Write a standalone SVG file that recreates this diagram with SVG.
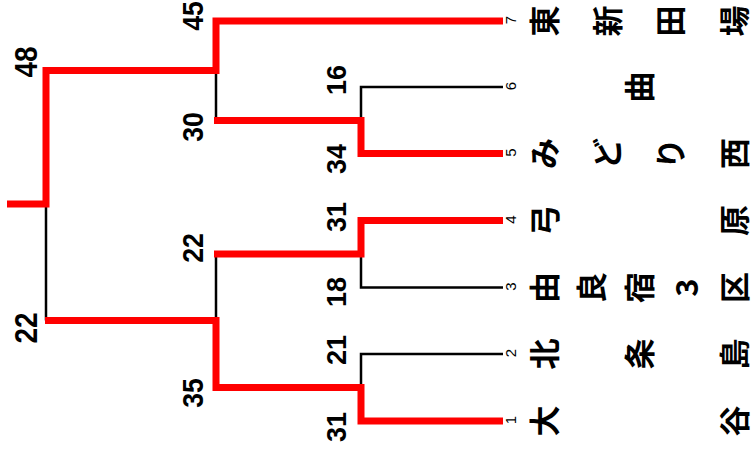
<svg xmlns="http://www.w3.org/2000/svg" width="751" height="461" viewBox="0 0 751 461">
<style>
.bk{fill:none;stroke:#000;stroke-width:2.5;stroke-linejoin:miter}
.rd{fill:none;stroke:#f00;stroke-width:7;stroke-linejoin:miter}
.sc{font-family:"Liberation Sans",Arial,sans-serif;font-weight:bold;text-anchor:middle;fill:#000}
.f{font-size:31px}
.r2{font-size:29px}
.r1{font-size:27px}
.num{font-family:"Liberation Sans",Arial,sans-serif;font-size:15px;text-anchor:middle;fill:#000}
.jp{font-family:"Noto Sans CJK JP","Liberation Sans",sans-serif;font-weight:bold;font-size:31px;text-anchor:middle;dominant-baseline:central;fill:#000}
</style>
<rect width="751" height="461" fill="#fff"/>
<g id="connectors">
<path class="bk" d="M503,87 H361 V120.5"/>
<path class="bk" d="M503,287.5 H361 V254"/>
<path class="bk" d="M503,354 H361 V387"/>
<path class="bk" d="M216,70.5 V120.5"/>
<path class="bk" d="M216,254 V320.5"/>
<path class="bk" d="M46,204 V320.5"/>
<path class="rd" d="M503,21 H216 V70.5 H46 V204 H7"/>
<path class="rd" d="M503,153.5 H361 V120.5 H214"/>
<path class="rd" d="M503,220.5 H361 V254 H214"/>
<path class="rd" d="M503,421 H361 V387.5 H216 V320.5 H45"/>
</g>
<g id="team7">
<text class="num" transform="translate(516,20) rotate(-90)">7</text>
<text class="jp" transform="translate(542,21) rotate(-90)">東</text>
<text class="jp" transform="translate(605.3,21) rotate(-90)">新</text>
<text class="jp" transform="translate(668.7,21) rotate(-90)">田</text>
<text class="jp" transform="translate(732,21) rotate(-90)">場</text>
</g>
<g id="team6">
<text class="num" transform="translate(516,86) rotate(-90)">6</text>
<text class="jp" transform="translate(637,87) rotate(-90)">曲</text>
</g>
<g id="team5">
<text class="num" transform="translate(516,152.5) rotate(-90)">5</text>
<text class="jp" transform="translate(542,153.5) rotate(-90)">み</text>
<text class="jp" transform="translate(605.3,153.5) rotate(-90)">ど</text>
<text class="jp" transform="translate(668.7,153.5) rotate(-90)">り</text>
<text class="jp" transform="translate(732,153.5) rotate(-90)">西</text>
</g>
<g id="team4">
<text class="num" transform="translate(516,219.5) rotate(-90)">4</text>
<text class="jp" transform="translate(542,220.5) rotate(-90)">弓</text>
<text class="jp" transform="translate(732,220.5) rotate(-90)">原</text>
</g>
<g id="team3">
<text class="num" transform="translate(516,286.5) rotate(-90)">3</text>
<text class="jp" transform="translate(542,287.5) rotate(-90)">由</text>
<text class="jp" transform="translate(589.5,287.5) rotate(-90)">良</text>
<text class="jp" transform="translate(637,287.5) rotate(-90)">宿</text>
<text class="jp" transform="translate(684.5,287.5) rotate(-90)">3</text>
<text class="jp" transform="translate(732,287.5) rotate(-90)">区</text>
</g>
<g id="team2">
<text class="num" transform="translate(516,353) rotate(-90)">2</text>
<text class="jp" transform="translate(542,354) rotate(-90)">北</text>
<text class="jp" transform="translate(637,354) rotate(-90)">条</text>
<text class="jp" transform="translate(732,354) rotate(-90)">島</text>
</g>
<g id="team1">
<text class="num" transform="translate(516,420) rotate(-90)">1</text>
<text class="jp" transform="translate(542,421) rotate(-90)">大</text>
<text class="jp" transform="translate(732,421) rotate(-90)">谷</text>
</g>
<g id="match-r1-56">
<text class="sc r1" transform="translate(346,80) rotate(-90)">16</text>
<text class="sc r1" transform="translate(346,159) rotate(-90)">34</text>
</g>
<g id="match-r1-34">
<text class="sc r1" transform="translate(346,217) rotate(-90)">31</text>
<text class="sc r1" transform="translate(346,292) rotate(-90)">18</text>
</g>
<g id="match-r1-12">
<text class="sc r1" transform="translate(346,350) rotate(-90)">21</text>
<text class="sc r1" transform="translate(346,427) rotate(-90)">31</text>
</g>
<g id="match-r2-top">
<text class="sc r2" transform="translate(203,16) rotate(-90) scale(0.92,1)">45</text>
<text class="sc r2" transform="translate(203,127) rotate(-90) scale(0.92,1)">30</text>
</g>
<g id="match-r2-bottom">
<text class="sc r2" transform="translate(203,248) rotate(-90) scale(0.92,1)">22</text>
<text class="sc r2" transform="translate(203,393) rotate(-90) scale(0.92,1)">35</text>
</g>
<g id="match-final">
<text class="sc f" transform="translate(36.5,62) rotate(-90) scale(0.9,1)">48</text>
<text class="sc f" transform="translate(36.5,328) rotate(-90) scale(0.9,1)">22</text>
</g>
</svg>
